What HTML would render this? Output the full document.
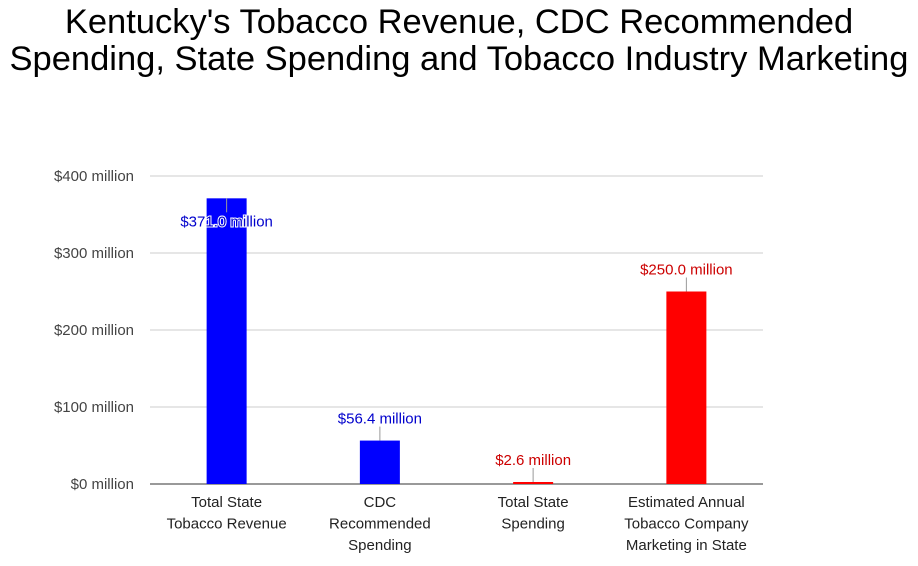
<!DOCTYPE html>
<html><head><meta charset="utf-8"><style>
body{margin:0;background:#fff;width:918px;height:561px;overflow:hidden;font-family:"Liberation Sans",sans-serif}
</style></head><body>
<svg width="918" height="561" xmlns="http://www.w3.org/2000/svg">
<text x="459" y="33" text-anchor="middle" font-size="34.5" fill="#000">Kentucky's Tobacco Revenue, CDC Recommended</text>
<text x="459" y="70" text-anchor="middle" font-size="34.5" fill="#000">Spending, State Spending and Tobacco Industry Marketing</text>
<g id="grid"></g><g id="bars"></g><g id="labels"></g>
</svg>
<script>
const categories=[["Total State","Tobacco Revenue"],["CDC","Recommended","Spending"],["Total State","Spending"],["Estimated Annual","Tobacco Company","Marketing in State"]];
const values=[371.0,56.4,2.6,250.0];
const colors=["#0000ff","#0000ff","#ff0000","#ff0000"];
const labelColors=["#0000cc","#0000cc","#cc0000","#cc0000"];
const ticks=[0,100,200,300,400];
const NS="http://www.w3.org/2000/svg";
const x0=150,x1=763,yBase=484,yTop=176,maxV=400;
const y=v=>yBase-(v/maxV)*(yBase-yTop);
const step=(x1-x0)/categories.length;
const xc=i=>x0+step*(i+0.5);
function mk(t,a,p){const e=document.createElementNS(NS,t);for(const k in a)e.setAttribute(k,a[k]);p.appendChild(e);return e;}
const g=document.getElementById('grid'),b=document.getElementById('bars'),l=document.getElementById('labels');
ticks.forEach(t=>{
 const ln=mk('line',{x1:x0,x2:x1,y1:y(t),y2:y(t),stroke:t===0?'#333':'#ccc','stroke-width':1},g);
 
 
 const tx=mk('text',{x:134,y:y(t)+5,'text-anchor':'end','font-size':15,fill:'#444'},g);
 tx.textContent='$'+t+' million';
 
 
});
values.forEach((v,i)=>{
 const cx=xc(i);
 const r=mk('rect',{x:cx-20,y:y(v),width:40,height:yBase-y(v),fill:colors[i]},b);
 
 
 const inside=v>330;
 const ly=inside?y(v)+28:y(v)-17;
 mk('line',{x1:cx,x2:cx,y1:y(v),y2:inside?y(v)+14:y(v)-14,stroke:'#999','stroke-width':1},l);
 const t=mk('text',{x:cx,y:ly,'text-anchor':'middle','font-size':15,fill:labelColors[i],stroke:'#fff','stroke-width':inside?2:0,'paint-order':'stroke'},l);
 t.textContent='$'+v.toFixed(1)+' million';
 
 
 categories[i].forEach((s,j)=>{
  const c=mk('text',{x:cx,y:507+j*21.5,'text-anchor':'middle','font-size':15,fill:'#222'},l);
  c.textContent=s;
  
  
 });
});
</script>
</body></html>
